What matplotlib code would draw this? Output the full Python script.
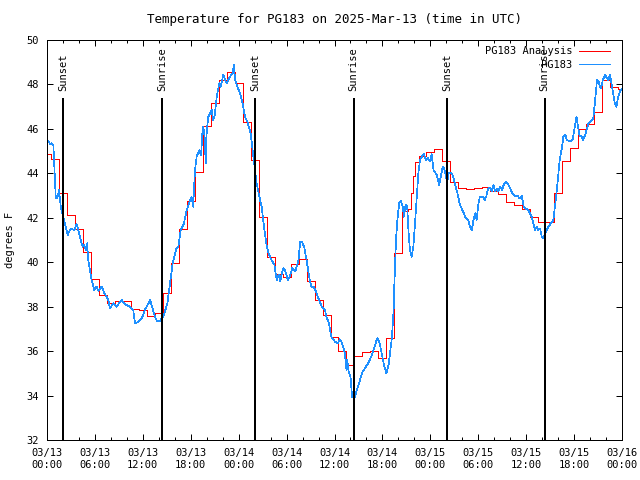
import matplotlib
matplotlib.use("Agg")
import matplotlib.pyplot as plt
import matplotlib.dates as mdates
import numpy as np
import pandas as pd

start = pd.Timestamp("2025-03-13 00:00")

# analysis, hours after start -> deg F
analysis_hours = [0, 1, 2, 3, 4, 5, 6, 7, 8, 9, 10, 11, 12, 13, 14, 15, 16, 17,
                  18, 19, 20, 21, 22, 23, 24, 25, 26, 27, 28, 29, 30, 31, 32, 33,
                  34, 35, 36, 37, 38, 39, 40, 41, 42, 43, 44, 45, 45.5, 45.75, 46,
                  46.25, 47, 48, 49, 50, 51, 52, 53, 54, 55, 56, 57, 58, 59, 60,
                  61, 62, 63, 64, 65, 66, 67, 68, 69, 70, 71, 72]
analysis_temp = [44.87, 44.63, 43.13, 42.13, 41.48, 40.45, 39.23, 38.53, 38.15,
                 38.26, 38.26, 37.88, 37.84, 37.58, 37.72, 38.6, 39.95, 41.48,
                 42.74, 44.05, 46.13, 47.18, 48.19, 48.55, 48.05, 46.3, 44.6,
                 42.05, 40.22, 39.46, 39.35, 39.9, 40.13, 39.16, 38.3, 37.62,
                 36.62, 36.0, 35.39, 35.77, 35.97, 36.0, 35.69, 36.6, 40.4, 42.3,
                 42.4, 43.1, 43.9, 44.5, 44.78, 44.97, 45.08, 44.55, 43.62, 43.33,
                 43.28, 43.33, 43.4, 43.2, 43.07, 42.73, 42.58, 42.38, 42.02,
                 41.81, 41.81, 43.1, 44.55, 45.12, 45.98, 46.2, 46.74, 48.2, 47.9,
                 47.81]

# station observations
obs_hours = [0.0, 0.2, 0.4, 0.6, 0.8, 0.9, 1.1, 1.3, 1.5, 1.75, 2.05, 2.34, 2.59,
             2.88, 3.09, 3.42, 3.71, 3.9, 4.22, 4.47, 4.65, 4.85, 5.01, 5.17,
             5.38, 5.59, 5.93, 6.2, 6.43, 6.85, 7.2, 7.68, 7.89, 8.3, 8.7, 9.35,
             9.8, 10.4, 10.8, 11.02, 11.4, 11.85, 12.05, 12.25, 12.94, 13.15,
             13.44, 13.73, 14.15, 14.57, 15.07, 15.4, 15.74, 16.2, 16.45, 16.74,
             17.15, 17.49, 17.8, 18.1, 18.3, 18.53, 18.74, 19.08, 19.3, 19.45,
             19.57, 19.75, 19.87, 20.0, 20.2, 20.62, 20.8, 21.0, 21.25, 21.58,
             21.75, 22.08, 22.3, 22.5, 22.91, 23.25, 23.41, 23.55, 23.83, 24.17,
             24.5, 24.79, 25.08, 25.5, 25.84, 26.05, 26.25, 26.59, 26.88, 27.17,
             27.5, 27.7, 28.1, 28.47, 28.76, 29.0, 29.2, 29.4, 29.6, 29.85,
             30.15, 30.4, 30.7, 31.1, 31.5, 31.7, 31.9, 32.2, 32.5, 32.9, 33.1,
             33.4, 33.77, 33.98, 34.4, 34.8, 35.0, 35.3, 35.6, 36.07, 36.4,
             36.68, 36.96, 37.3, 37.5, 37.6, 37.75, 38.0, 38.2, 38.5, 38.8, 39.2,
             39.5, 39.8, 40.2, 40.6, 40.9, 41.2, 41.4, 41.65, 41.9, 42.2, 42.5,
             42.8, 43.2, 43.4, 43.5, 43.7, 43.87, 44.1, 44.3, 44.55, 44.7, 44.9,
             45.1, 45.28, 45.45, 45.66, 45.87, 46.08, 46.3, 46.5, 46.7, 47.0,
             47.2, 47.45, 47.7, 47.95, 48.16, 48.4, 48.8, 49.1, 49.3, 49.55,
             49.75, 49.96, 50.1, 50.3, 50.7, 50.9, 51.1, 51.4, 51.66, 51.9, 52.1,
             52.35, 52.55, 52.76, 52.97, 53.2, 53.4, 53.6, 53.8, 54.0, 54.2,
             54.6, 54.8, 55.0, 55.25, 55.5, 55.7, 55.9, 56.1, 56.3, 56.5, 56.75,
             57.0, 57.2, 57.5, 57.7, 58.0, 58.27, 58.6, 58.9, 59.15, 59.44, 59.7,
             59.86, 60.26, 60.69, 60.9, 61.1, 61.3, 61.5, 61.75, 61.95, 62.15,
             62.4, 62.77, 63.1, 63.4, 63.6, 63.8, 64.0, 64.2, 64.5, 64.65, 64.9,
             65.1, 65.5, 65.8, 66.1, 66.3, 66.5, 66.7, 66.9, 67.15, 67.4, 67.6,
             67.8, 68.1, 68.4, 68.6, 68.75, 68.87, 69.05, 69.25, 69.4, 69.6,
             69.87, 70.1, 70.3, 70.5, 70.7, 70.9, 71.1, 71.3, 71.5, 71.75, 72.0]
obs_temp = [45.35, 45.45, 45.3, 45.35, 45.25, 44.45, 42.88, 42.9, 43.25, 42.43,
            42.02, 41.6, 41.23, 41.45, 41.5, 41.45, 41.72, 41.45, 41.0, 40.7,
            40.78, 40.55, 40.85, 40.1, 39.65, 39.2, 38.75, 38.9, 38.72, 38.9,
            38.6, 38.3, 37.93, 38.15, 38.0, 38.3, 38.1, 38.0, 37.85, 37.25,
            37.3, 37.48, 37.63, 37.85, 38.3, 38.0, 37.63, 37.37, 37.37, 37.55,
            38.15, 39.05, 39.95, 40.63, 40.7, 41.45, 41.75, 42.35, 42.65, 42.95,
            42.5, 44.15, 44.75, 45.05, 44.8, 45.8, 46.1, 45.6, 44.45, 45.9,
            46.55, 46.85, 46.4, 46.6, 47.45, 48.05, 47.9, 48.43, 48.2, 48.05,
            48.35, 48.5, 48.88, 48.2, 47.9, 47.6, 47.15, 46.55, 46.33, 45.8,
            44.75, 44.15, 43.55, 42.95, 42.5, 41.6, 40.75, 40.45, 40.1, 39.88,
            39.2, 39.45, 39.13, 39.5, 39.73, 39.6, 39.2, 39.35, 39.73, 39.6,
            40.1, 40.93, 40.93, 40.7, 40.1, 39.2, 38.9, 38.9, 38.6, 38.38, 38.0,
            37.85, 37.55, 37.25, 36.65, 36.42, 36.35, 36.53, 36.35, 35.9, 35.15,
            35.6, 35.1, 34.85, 33.95, 33.88, 34.25, 34.7, 35.07, 35.22, 35.45,
            35.75, 36.05, 36.42, 36.58, 36.35, 35.9, 35.38, 35.0, 35.45, 36.65,
            37.85, 39.05, 41.0, 41.9, 42.65, 42.75, 42.5, 42.05, 42.6, 42.5,
            41.3, 40.55, 40.25, 40.7, 41.75, 42.95, 44.0, 44.6, 44.78, 44.87,
            44.6, 44.7, 44.53, 44.87, 44.15, 43.93, 43.48, 43.85, 44.3, 44.2,
            43.85, 43.55, 44.0, 44.0, 43.8, 43.48, 43.1, 42.65, 42.43, 42.28,
            42.05, 41.98, 41.9, 41.6, 41.45, 41.9, 42.2, 41.9, 42.58, 42.95,
            42.95, 42.8, 42.95, 43.33, 43.35, 43.2, 43.48, 43.18, 43.3, 43.18,
            43.38, 43.25, 43.5, 43.6, 43.55, 43.33, 43.1, 42.95, 43.0, 42.88,
            42.98, 42.5, 42.43, 42.35, 42.05, 41.75, 41.45, 41.6, 41.45, 41.5,
            41.15, 41.08, 41.3, 41.6, 41.75, 41.9, 42.5, 43.1, 43.85, 44.6,
            45.2, 45.65, 45.73, 45.5, 45.43, 45.5, 46.1, 46.55, 46.1, 45.65,
            45.7, 45.5, 45.75, 46.0, 46.25, 46.35, 46.48, 47.15, 47.75, 48.2,
            48.15, 47.9, 47.85, 48.2, 48.43, 48.3, 48.2, 48.43, 48.0, 47.6,
            47.15, 47.0, 47.4, 47.68, 47.8]

sun_hours = [2.03, 14.43, 26.05, 38.38, 50.1, 62.3]
sun_labels = ["Sunset", "Sunrise", "Sunset", "Sunrise", "Sunset", "Sunrise"]


def to_time(hours):
    return start + pd.to_timedelta(np.asarray(hours, dtype=float), unit="h")


plt.rcParams["font.family"] = ["DejaVu Sans Mono"]
plt.rcParams["font.size"] = 7.5
plt.rcParams["lines.antialiased"] = False

fig = plt.figure(figsize=(6.4, 4.8), dpi=100)
ax = fig.add_axes([47 / 640, 40 / 480, 575 / 640, 400 / 480])

ax.plot(to_time(analysis_hours), analysis_temp, color="#ff0000", lw=0.72,
        drawstyle="steps-mid", label="PG183 Analysis")
ax.plot(to_time(obs_hours), obs_temp, color="#1e90ff", lw=0.5, label="PG183")

for h, lab in zip(sun_hours, sun_labels):
    t = to_time([h, h])
    ax.plot(t, [32, 47.4], color="black", lw=1.2, solid_capstyle="butt")
    ax.text(t[0], 47.7, lab, rotation=90, ha="center", va="bottom")

ax.set_xlim(start, start + pd.Timedelta(hours=72))
ax.set_ylim(32, 50)
ax.set_yticks(np.arange(32, 51, 2))
ax.xaxis.set_major_locator(mdates.HourLocator(byhour=[0, 6, 12, 18]))
ax.xaxis.set_minor_locator(mdates.HourLocator(interval=2))
ax.xaxis.set_major_formatter(mdates.DateFormatter("%m/%d\n%H:%M"))
ax.tick_params(which="both", direction="in", top=True, right=True, width=0.72)
ax.tick_params(which="major", length=4.5, pad=6)
ax.tick_params(which="minor", length=2.5)
for s in ax.spines.values():
    s.set_linewidth(0.72)

ax.set_ylabel("degrees F", labelpad=8)
ax.set_title("Temperature for PG183 on 2025-Mar-13 (time in UTC)", pad=12.5)
ax.legend(loc="upper right", bbox_to_anchor=(0.99, 1.0), frameon=False,
          markerfirst=False, handlelength=3.0, borderaxespad=0.2,
          labelspacing=0.35, handletextpad=0.6)

fig.savefig("out.png", dpi=100)
